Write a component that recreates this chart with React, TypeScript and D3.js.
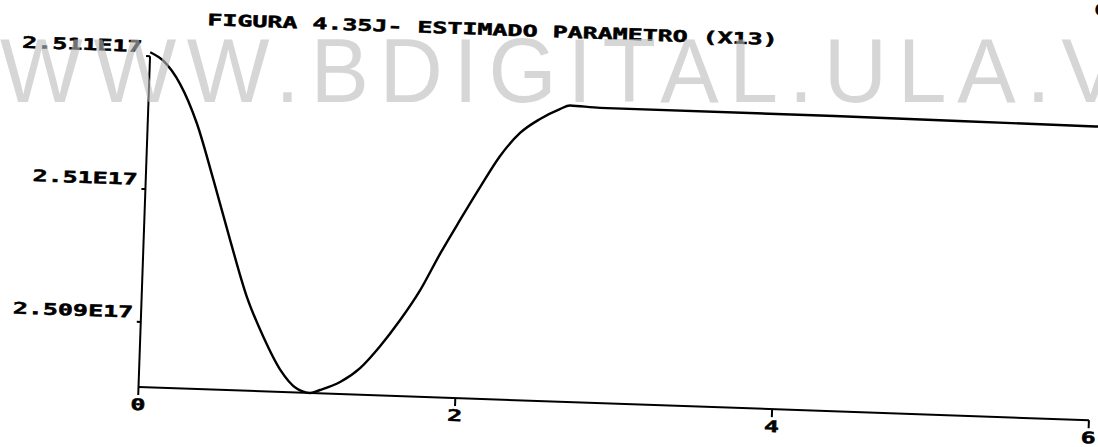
import React from "react";
import * as d3 from "d3";

const W = 1098;
const H = 447;

// Estimated parameter X13 over time (values in units of 1E17)
const xValues = [0, 0.084, 0.195, 0.309, 0.426, 0.545, 0.662, 0.776, 0.888, 0.998, 1.083, 1.145, 1.27, 1.393, 1.514, 1.634, 1.754, 1.872, 1.991, 2.109, 2.228, 2.35, 2.473, 2.596, 2.659, 2.849, 4.329, 5.976, 6];
const yValues = [2.51103, 2.51097, 2.5108, 2.51051, 2.51009, 2.50964, 2.50922, 2.50892, 2.50868, 2.50854, 2.50851, 2.508535, 2.5086, 2.50871, 2.50888, 2.50908, 2.50931, 2.50959, 2.50985, 2.5101, 2.51034, 2.51052, 2.51063, 2.51071, 2.51074, 2.51073, 2.51073, 2.51072, 2.51072];

const xTicks = [0, 2, 4, 6];
const xTickLabels = ["0", "2", "4", "6"];
const yTicks = [2.509, 2.51, 2.511];
const yTickLabels = ["2.509E17", "2.51E17", "2.511E17"];
const yDomain = [2.50851, 2.511];

const title = "FIGURA 4.35J- ESTIMADO PARAMETRO (X13)";
const pageMark = "6";
const watermark = "WWW.BDIGITAL.ULA.VE";

const plotFont = "'DejaVu Sans Mono', 'Liberation Mono', monospace";
const textScale = 1.56;

function PlotText({ u, v, anchor = "start", children }: { u: number; v: number; anchor?: string; children: React.ReactNode }) {
  return (
    <g transform={`translate(${u},${v}) scale(${textScale},1)`}>
      <text
        x={0}
        y={0}
        textAnchor={anchor}
        fontFamily={plotFont}
        fontWeight="bold"
        fontSize={16}
        fill="#000"
        stroke="#000"
        strokeWidth={0.5}
      >
        {children}
      </text>
    </g>
  );
}

export default function App() {
  const x = d3.scaleLinear().domain([0, 6]).range([0, 951]);
  const y = d3.scaleLinear().domain(yDomain).range([0, -331]);
  const points: [number, number][] = xValues.map((v, i) => [v, yValues[i]]);
  const line = d3
    .line<[number, number]>()
    .x((d) => x(d[0]))
    .y((d) => y(d[1]))
    .curve(d3.curveMonotoneX);

  return (
    <svg width={W} height={H} style={{ position: "absolute", left: 0, top: 0, background: "#fff" }}>
      <rect width={W} height={H} fill="#fff" />
      {/* the plotted page is slightly rotated */}
      <g transform="translate(138.5,387) rotate(2)">
        {/* axes */}
        <line x1={0} y1={0} x2={x(6)} y2={0} stroke="#000" strokeWidth={2} />
        <line x1={0} y1={0} x2={0} y2={y(yDomain[1])} stroke="#000" strokeWidth={2} />
        {xTicks.map((t, i) => (
          <g key={"xt" + i}>
            <line x1={x(t)} y1={0} x2={x(t)} y2={8} stroke="#000" strokeWidth={2} />
            <PlotText u={x(t)} v={23} anchor="middle">{xTickLabels[i]}</PlotText>
          </g>
        ))}
        {yTicks.map((t, i) => (
          <g key={"yt" + i}>
            <line x1={-4} y1={y(t)} x2={0} y2={y(t)} stroke="#000" strokeWidth={2} />
            <PlotText u={-8} v={y(t) - 4} anchor="end">{yTickLabels[i]}</PlotText>
          </g>
        ))}
        {/* estimate curve */}
        <path d={line(points) || ""} fill="none" stroke="#000" strokeWidth={2.4} strokeLinejoin="round" />
        {/* title */}
        <PlotText u={56} v={-364}>{title}</PlotText>
        <PlotText u={942} v={-405}>{pageMark}</PlotText>
      </g>
      {/* repository watermark */}
      <g transform="scale(0.963,1)">
        <text
          x={0}
          y={102}
          fontFamily="'Liberation Sans', Arial, sans-serif"
          fontSize={91}
          letterSpacing={11.1}
          fill="rgb(186,186,186)"
          fillOpacity={0.6}
        >
          {watermark}
        </text>
      </g>
    </svg>
  );
}
